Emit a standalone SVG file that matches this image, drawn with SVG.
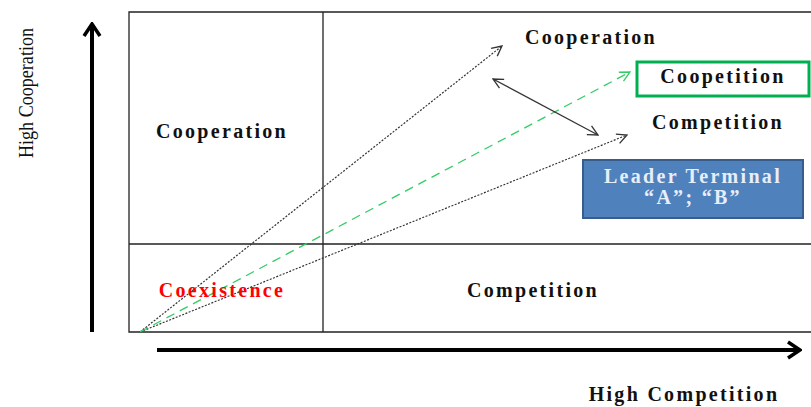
<svg xmlns="http://www.w3.org/2000/svg" width="811" height="407" viewBox="0 0 811 407">
<defs>
<style>
.t{font-family:"Liberation Serif","Times New Roman",serif;font-weight:bold;font-size:20px;letter-spacing:2.3px;fill:#111;text-anchor:middle}
.grid{stroke:#222;stroke-width:1.3;fill:none}
.dot{stroke:#333;stroke-width:1.2;stroke-dasharray:2 1.5;fill:none}
.axis{stroke:#000;stroke-width:4;fill:none}
</style>
<marker id="open" viewBox="0 0 12 12" refX="11" refY="6" markerWidth="12" markerHeight="12" markerUnits="userSpaceOnUse" orient="auto-start-reverse">
<path d="M1,1 L11,6 L1,11" fill="none" stroke="#333" stroke-width="1.3"/>
</marker>
<marker id="openg" viewBox="0 0 12 12" refX="11" refY="6" markerWidth="12" markerHeight="12" markerUnits="userSpaceOnUse" orient="auto">
<path d="M1,1 L11,6 L1,11" fill="none" stroke="#33cc66" stroke-width="1.3"/>
</marker>
<marker id="big" viewBox="0 0 20 20" refX="18" refY="10" markerWidth="20" markerHeight="20" markerUnits="userSpaceOnUse" orient="auto">
<path d="M6,2 L18,10 L6,18" fill="none" stroke="#000" stroke-width="3.5"/>
</marker>
</defs>
<g id="frame">
<path class="grid" d="M811,12 H129 V332 H811 M323,12 V332 M129,244 H811"/>
</g>
<g id="axes">
<line class="axis" x1="92" y1="332" x2="92" y2="24" marker-end="url(#big)"/>
<line class="axis" x1="157" y1="350" x2="800" y2="350" marker-end="url(#big)"/>
</g>
<g id="connectors">
<line class="dot" x1="140" y1="332" x2="502" y2="46" marker-end="url(#open)"/>
<line class="dot" x1="140" y1="332" x2="627" y2="135" marker-end="url(#open)"/>
<line x1="140" y1="332" x2="630" y2="72" stroke="#33cc66" stroke-width="1.3" stroke-dasharray="9 6" marker-end="url(#openg)"/>
<line x1="493" y1="79" x2="598" y2="135" stroke="#333" stroke-width="1.3" marker-start="url(#open)" marker-end="url(#open)"/>
</g>
<g id="label-high-cooperation">
<text transform="translate(33,93) rotate(-90)" font-family="Liberation Serif, Times New Roman, serif" font-size="20" fill="#111" text-anchor="middle" textLength="130" lengthAdjust="spacingAndGlyphs">High Cooperation</text>
</g>
<g id="label-high-competition">
<text class="t" x="684" y="401">High Competition</text>
</g>
<g id="q-cooperation">
<text class="t" x="222" y="138">Cooperation</text>
</g>
<g id="q-coexistence">
<text class="t" x="222" y="297" style="fill:#ff0000">Coexistence</text>
</g>
<g id="q-competition">
<text class="t" x="533" y="297">Competition</text>
</g>
<g id="out-cooperation">
<text class="t" x="591" y="44">Cooperation</text>
</g>
<g id="out-coopetition">
<rect x="637" y="62" width="172" height="34" fill="#fff" stroke="#00b050" stroke-width="3"/>
<text class="t" x="723" y="83">Coopetition</text>
</g>
<g id="out-competition">
<text class="t" x="718" y="129">Competition</text>
</g>
<g id="leader">
<rect x="583" y="160" width="220" height="58" fill="#4f81bd" stroke="#385d8a" stroke-width="2"/>
<text class="t" x="693" y="183" style="fill:#e8eef8">Leader Terminal</text>
<text class="t" x="693" y="204" style="fill:#e8eef8">“A”; “B”</text>
</g>
</svg>
